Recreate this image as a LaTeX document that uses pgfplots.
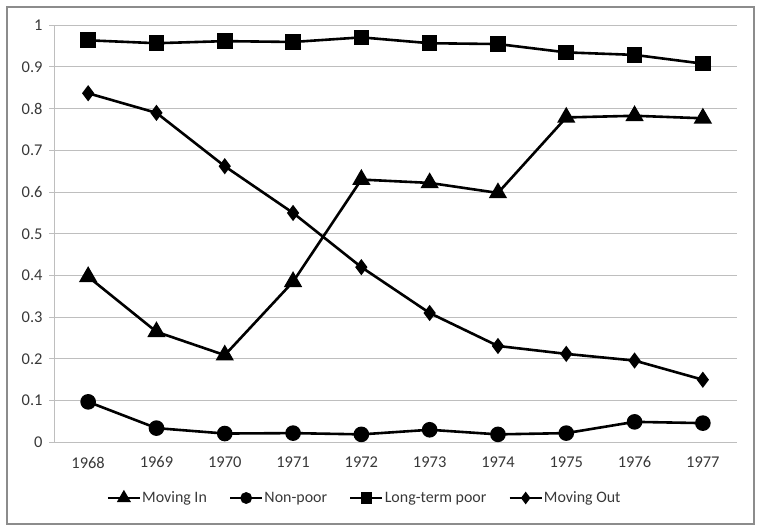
\documentclass[border=0pt]{standalone}
\usepackage{pgfplots}
\pgfplotsset{compat=1.18}
\usepackage{fontspec}
\setmainfont{Carlito}
\definecolor{gridc}{HTML}{BEBEBE}
\definecolor{framec}{HTML}{8C8C8C}
\definecolor{txt}{HTML}{383838}
\begin{document}
\begin{tikzpicture}[x=1bp,y=1bp]
\path[use as bounding box] (0,0) rectangle (762,532);
\draw[framec, line width=1.2bp] (7,8) rectangle (754,525);
\begin{axis}[
  at={(54bp,89.7bp)}, anchor=south west,
  scale only axis, width=683bp, height=417bp,
  xmin=-0.5, xmax=9.5, ymin=0, ymax=1,
  xtick={0,...,9},
  xticklabels={1968,1969,1970,1971,1972,1973,1974,1975,1976,1977},
  minor xtick={-0.5,0.5,...,9.5},
  ytick={0,0.1,...,1.0},
  axis x line*=bottom, axis y line*=left,
  axis line style={gridc, line width=1bp, -},
  ymajorgrids, major grid style={gridc, line width=1bp},
  tick align=outside,
  xtick style={draw=none},
  minor x tick style={gridc, line width=1bp},
  minor tick length=5bp,
  y tick style={gridc, line width=1bp},
  major tick length=5bp,
  tick label style={font=\fontsize{16.5}{20}\selectfont, text=txt},
  /pgf/number format/assume math mode=true,
  yticklabel style={/pgf/number format/fixed},
  xticklabel style={yshift=-6bp},
  yticklabel style={xshift=-3bp},
  legend style={at={(0.454,-0.1336)}, anchor=center, draw=none, fill=none,
    font=\fontsize{16}{19}\selectfont, text=txt, legend columns=4,
    nodes={inner xsep=1bp},
    /tikz/every even column/.append style={column sep=21bp}},
  legend image code/.code={
    \draw[#1, mark=none] (0bp,0bp) -- (32bp,0bp);
    \draw[#1, mark repeat=2, mark phase=2, draw=none, /tikz/every mark/.append style={scale=0.7}] plot coordinates {(0bp,0bp)(16bp,0bp)(32bp,0bp)};
  },
  every axis plot/.append style={black, line width=2.6bp, mark options={solid, fill=black}},
]
\addplot[mark=triangle*, mark size=8bp] coordinates {
(0,0.397)(1,0.265)(2,0.209)(3,0.385)(4,0.630)(5,0.622)(6,0.598)(7,0.779)(8,0.783)(9,0.777)};
\addlegendentry{Moving In}
\addplot[mark=*, mark size=6.5bp] coordinates {
(0,0.097)(1,0.034)(2,0.021)(3,0.022)(4,0.019)(5,0.030)(6,0.019)(7,0.022)(8,0.049)(9,0.046)};
\addlegendentry{Non-poor}
\addplot[mark=square*, mark size=6.5bp] coordinates {
(0,0.964)(1,0.957)(2,0.962)(3,0.960)(4,0.971)(5,0.957)(6,0.955)(7,0.935)(8,0.929)(9,0.908)};
\addlegendentry{Long-term poor}
\addplot[mark=diamond*, mark size=6bp] coordinates {
(0,0.837)(1,0.790)(2,0.662)(3,0.550)(4,0.420)(5,0.310)(6,0.231)(7,0.212)(8,0.196)(9,0.150)};
\addlegendentry{Moving Out}
\end{axis}
\end{tikzpicture}
\end{document}
